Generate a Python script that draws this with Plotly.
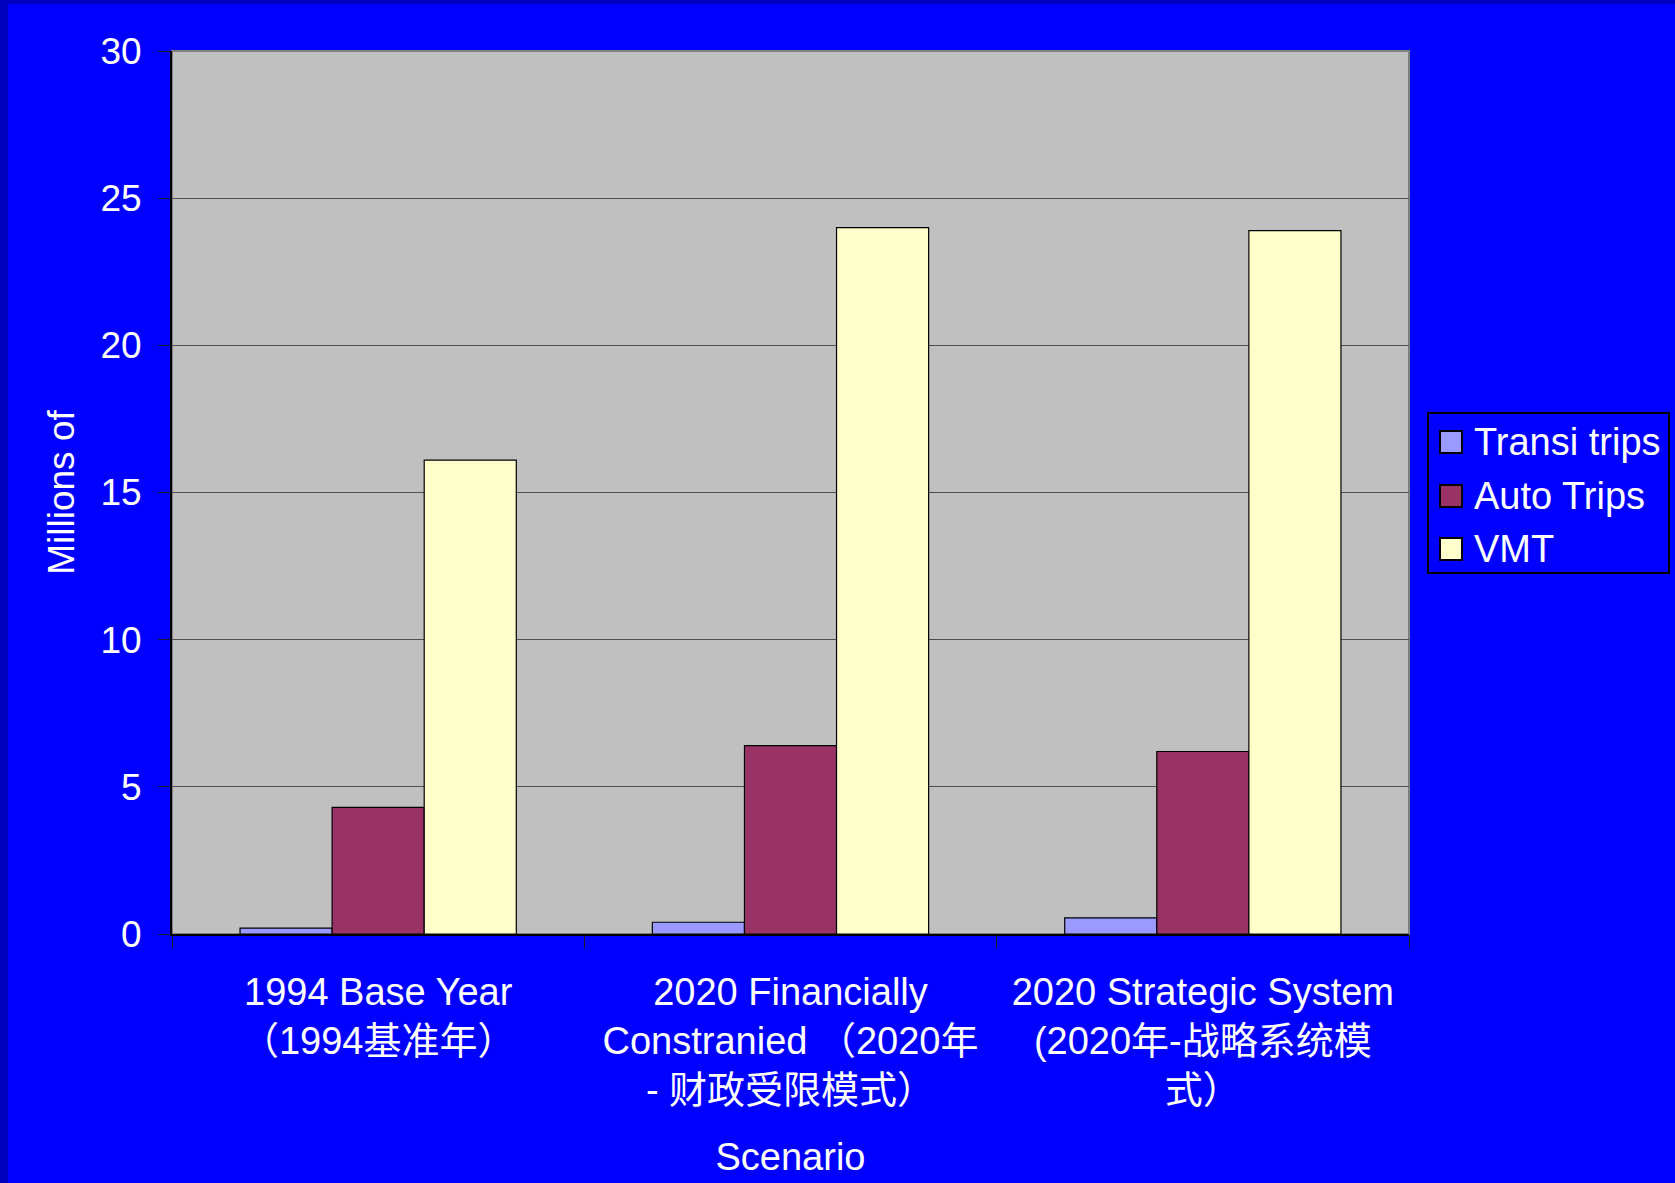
import plotly.graph_objects as go

# Scenario categories (multi-line labels, English + Chinese)
scenarios = [
    "1994 Base Year<br>（1994基准年）",
    "2020 Financially<br>Constranied （2020年<br>- 财政受限模式）",
    "2020 Strategic System<br>(2020年-战略系统模<br>式）",
]

# Values in millions
transit_trips = [0.2, 0.4, 0.55]
auto_trips = [4.3, 6.4, 6.2]
vmt = [16.1, 24.0, 23.9]

series_names = ["Transi trips", "Auto Trips", "VMT"]
series_colors = ["#9999FF", "#993366", "#FFFFCC"]

y_ticks = [0, 5, 10, 15, 20, 25, 30]

FONT = "Arial, 'Liberation Sans', 'Noto Sans CJK SC', sans-serif"

W, H = 1675, 1183
L, R, T, B = 172, 266, 51, 249
pw, ph = W - L - R, H - T - B


def px_x(x):
    return (x - L) / pw


def px_y(y):
    return (H - B - y) / ph


fig = go.Figure()
for name, vals, col in zip(series_names, [transit_trips, auto_trips, vmt], series_colors):
    fig.add_trace(go.Bar(
        x=scenarios, y=vals, name=name, showlegend=False,
        marker=dict(color=col, line=dict(color="black", width=1.2)),
    ))

shapes = [
    # darker slide frame strips on the left and top edges
    dict(type="rect", xref="paper", yref="paper", layer="below",
         x0=px_x(0), x1=px_x(8), y0=px_y(H), y1=px_y(0),
         fillcolor="#0000C0", line=dict(width=0)),
    dict(type="rect", xref="paper", yref="paper", layer="below",
         x0=px_x(0), x1=px_x(W), y0=px_y(4), y1=px_y(0),
         fillcolor="#0000C0", line=dict(width=0)),
    # gray plot-area frame (top/right)
    dict(type="rect", xref="paper", yref="paper", layer="below",
         x0=0, x1=1, y0=0, y1=1,
         fillcolor="rgba(0,0,0,0)", line=dict(color="#808080", width=2)),
    # legend box
    dict(type="rect", xref="paper", yref="paper",
         x0=px_x(1428), x1=px_x(1669), y0=px_y(573), y1=px_y(413),
         fillcolor="#0000FF", line=dict(color="black", width=2)),
]

annotations = []
# legend entries: colour swatch + label
legend_row_y = [442, 496, 549]
for name, col, ry in zip(series_names, series_colors, legend_row_y):
    shapes.append(dict(
        type="rect", xref="paper", yref="paper",
        x0=px_x(1440), x1=px_x(1462), y0=px_y(ry + 11), y1=px_y(ry - 11),
        fillcolor=col, line=dict(color="black", width=2),
    ))
    annotations.append(dict(
        xref="paper", yref="paper", x=px_x(1472), y=px_y(ry),
        xanchor="left", yanchor="middle", showarrow=False,
        text=name, font=dict(family=FONT, size=38, color="white"),
    ))

fig.update_layout(
    width=W, height=H,
    margin=dict(l=L, r=R, t=T, b=B, autoexpand=False),
    paper_bgcolor="#0000FF",
    plot_bgcolor="#C0C0C0",
    font=dict(family=FONT, size=38, color="white"),
    barmode="group",
    bargap=0.33,
    bargroupgap=0,
    shapes=shapes,
    annotations=annotations,
    xaxis=dict(
        showline=True, linecolor="black", linewidth=2,
        ticks="outside", tickson="boundaries", ticklen=12, tickcolor="#202020",
        ticklabelstandoff=23,
        tickfont=dict(size=38, color="white"),
        title=dict(text="Scenario", font=dict(size=38, color="white"), standoff=33),
        showgrid=False,
    ),
    yaxis=dict(
        range=[0, 30], tickvals=y_ticks, ticktext=[str(v) for v in y_ticks],
        showline=True, linecolor="black", linewidth=2,
        ticks="outside", ticklen=12, tickcolor="#202020",
        ticklabelstandoff=9,
        tickfont=dict(size=37, color="white"),
        showgrid=True, gridcolor="#505050", gridwidth=1.2,
        zeroline=False,
        title=dict(text="Millions of", font=dict(size=37, color="white"), standoff=14),
    ),
)

fig.write_html("out.html")
